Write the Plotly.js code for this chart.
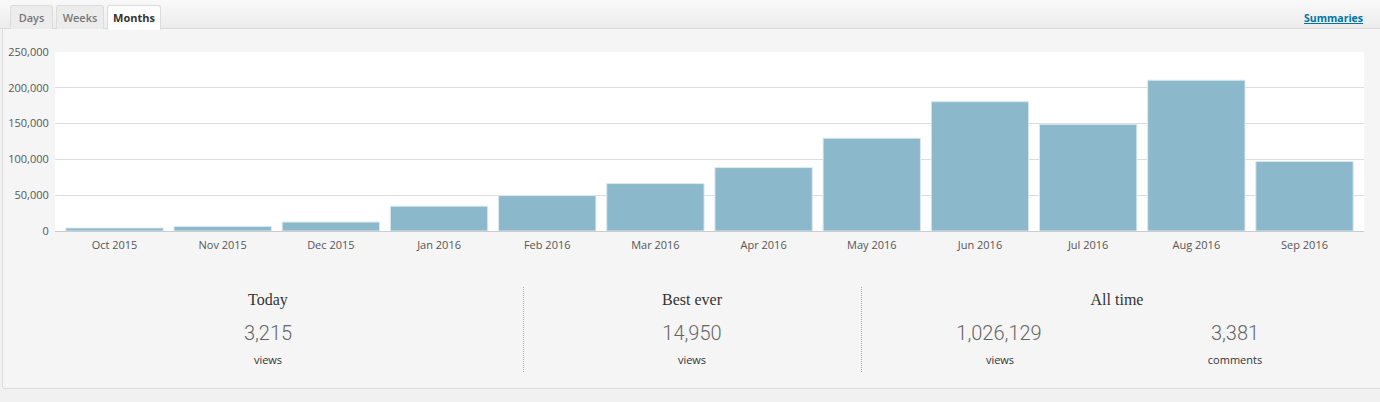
<!DOCTYPE html>
<html>
<head>
<meta charset="utf-8">
<script src="https://cdn.plot.ly/plotly-3.0.1.min.js"></script>
<style>
  html, body { margin:0; padding:0; width:1380px; height:402px; background:#f1f1f1; overflow:hidden; font-family:"Open Sans", "Noto Sans", sans-serif; }
  #panel { position:absolute; left:2px; top:-3px; width:1390px; height:392px; background:#f5f5f5; border:1px solid #dcdcdc; border-radius:3px; box-sizing:border-box; }
  #header { position:absolute; left:0; top:0; width:1380px; height:29px; background:linear-gradient(#f9f9f9, #ececec); border-bottom:1px solid #dadada; box-sizing:border-box; }
  .tab { position:absolute; top:5px; height:24px; box-sizing:border-box; border:1px solid #dcdcdc; border-bottom:none; border-radius:3px 3px 0 0; background:#ececec; color:#777; font-size:11px; font-weight:600; text-align:center; line-height:24px; }
  .tab.active { background:#fdfdfd; color:#333; height:25px; font-weight:700; }
  #summ { position:absolute; left:1304px; top:11px; font-size:10.5px; font-weight:700; color:#0074a2; text-decoration:underline; }
  #chart { position:absolute; left:0; top:0; width:1380px; height:270px; }
  .col { position:absolute; width:240px; text-align:center; }
  .h { font-family:"Liberation Serif", "DejaVu Serif", serif; font-size:16px; color:#333; top:291px; }
  .n { font-family:Roboto, "Open Sans", sans-serif; font-size:20px; font-weight:300; color:#666; top:321px; }
  .l { font-size:11px; color:#333; top:352px; }
  .div { position:absolute; top:287px; height:85px; width:0; border-left:1px dotted #aaa; }
</style>
</head>
<body>
<div id="panel"></div>
<div id="header"></div>
<div class="tab" style="left:10px;width:43px;">Days</div>
<div class="tab" style="left:56px;width:48px;">Weeks</div>
<div class="tab active" style="left:107px;width:54px;">Months</div>
<div id="summ">Summaries</div>
<div id="chart"></div>

<div class="col h" style="left:148px;">Today</div>
<div class="col n" style="left:148px;">3,215</div>
<div class="col l" style="left:148px;">views</div>
<div class="div" style="left:523px;"></div>
<div class="col h" style="left:572px;">Best ever</div>
<div class="col n" style="left:572px;">14,950</div>
<div class="col l" style="left:572px;">views</div>
<div class="div" style="left:861px;"></div>
<div class="col h" style="left:997px;">All time</div>
<div class="col n" style="left:879px;">1,026,129</div>
<div class="col l" style="left:880px;">views</div>
<div class="col n" style="left:1115px;">3,381</div>
<div class="col l" style="left:1115px;">comments</div>

<script>
const months = ["Oct 2015","Nov 2015","Dec 2015","Jan 2016","Feb 2016","Mar 2016","Apr 2016","May 2016","Jun 2016","Jul 2016","Aug 2016","Sep 2016"];
const views = [4200, 6400, 12500, 34700, 49500, 66200, 88600, 129600, 180600, 149100, 210600, 97200];
const yTicks = [0, 50000, 100000, 150000, 200000, 250000];

Plotly.newPlot('chart', [{
  type: 'bar',
  x: months,
  y: views,
  marker: { color: '#8cb8cb', line: { color: '#dbe9ef', width: 1 } },
  hoverinfo: 'none'
}], {
  width: 1380, height: 270,
  margin: { l: 55, r: 16, t: 52, b: 39 },
  paper_bgcolor: 'rgba(0,0,0,0)',
  plot_bgcolor: '#ffffff',
  bargap: 0.1,
  showlegend: false,
  font: { family: '"Open Sans", "Noto Sans", sans-serif', size: 11, color: '#555' },
  xaxis: {
    type: 'category', range: [-0.55, 11.55], showgrid: false, showline: true, linecolor: '#cccccc', linewidth: 1,
    ticks: 'outside', ticklen: 4, tickcolor: 'rgba(0,0,0,0)', tickfont: { size: 11, color: '#555' }, fixedrange: true
  },
  yaxis: {
    range: [0, 250000], tickvals: yTicks, tickformat: ',d',
    showgrid: true, gridcolor: '#dddddd', gridwidth: 1, zeroline: false,
    ticks: 'outside', ticklen: 3, tickcolor: 'rgba(0,0,0,0)',
    tickfont: { size: 11, color: '#555' }, fixedrange: true
  }
}, { displayModeBar: false, staticPlot: true });
</script>
</body>
</html>
